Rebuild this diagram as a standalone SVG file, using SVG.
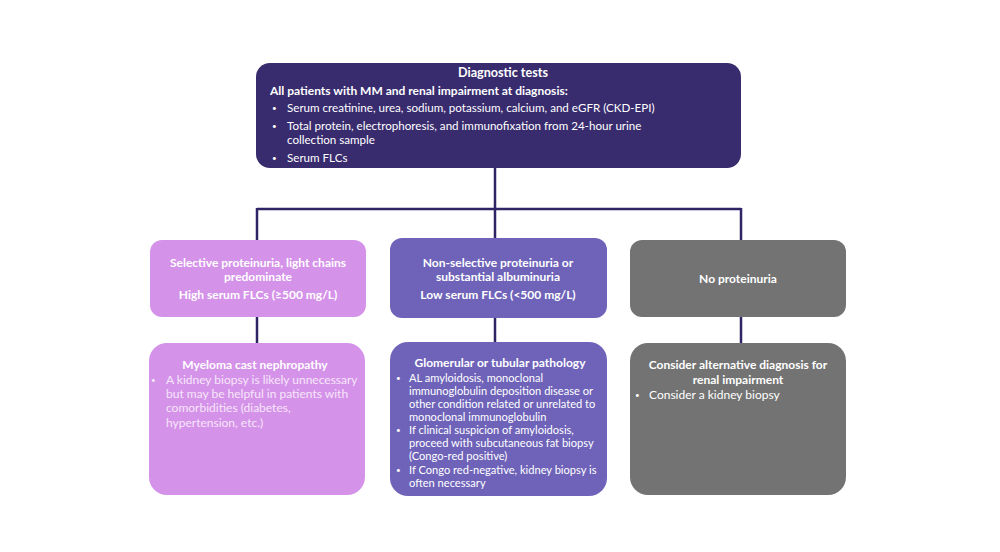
<svg xmlns="http://www.w3.org/2000/svg" width="1000" height="552" viewBox="0 0 1000 552">
<style>
text{font-family:Lato,"Liberation Sans",sans-serif;fill:#fff;font-size:12px}
.b{font-weight:bold}
.c{text-anchor:middle}
.t{font-size:11.6px}
.g{font-size:11.1px}
.d{font-size:8px}
.l{fill:#f5e6fa}
.conn{stroke:#2f2566;stroke-width:2.5;fill:none}
</style>
<rect width="1000" height="552" fill="#fff"/>
<g id="connectors">
<path class="conn" d="M495 168V209M257 209H741M257 208V240M495 208V238M741 208V240M257 317V343M495 318V342M741 317V343"/>
</g>
<g id="diagnostic-tests">
<rect x="256" y="63" width="485" height="105" rx="14" fill="#382c6e"/>
<text class="b c" x="503" y="77" style="font-size:12.6px">Diagnostic tests</text>
<text class="b" x="270" y="95">All patients with MM and renal impairment at diagnosis:</text>
<text class="d" x="272" y="111">•</text><text class="t" x="287" y="112">Serum creatinine, urea, sodium, potassium, calcium, and eGFR (CKD-EPI)</text>
<text class="d" x="272" y="129">•</text><text class="t" x="287" y="130">Total protein, electrophoresis, and immunofixation from 24-hour urine</text>
<text class="t" x="287" y="144">collection sample</text>
<text class="d" x="272" y="161">•</text><text class="t" x="287" y="162">Serum FLCs</text>
</g>
<g id="selective">
<rect x="150" y="240" width="216" height="77" rx="12" fill="#d592e9"/>
<text class="b c" x="258" y="267">Selective proteinuria, light chains</text>
<text class="b c" x="258" y="281">predominate</text>
<text class="b c" x="258" y="299">High serum FLCs (≥500 mg/L)</text>
</g>
<g id="non-selective">
<rect x="390" y="238" width="217" height="80" rx="12" fill="#6e63b9"/>
<text class="b c" x="498" y="267">Non-selective proteinuria or</text>
<text class="b c" x="498" y="281">substantial albuminuria</text>
<text class="b c" x="498" y="299">Low serum FLCs (&lt;500 mg/L)</text>
</g>
<g id="no-proteinuria">
<rect x="630" y="240" width="216" height="77" rx="12" fill="#737373"/>
<text class="b c" x="738" y="283">No proteinuria</text>
</g>
<g id="cast-nephropathy">
<rect x="149" y="343" width="216" height="152" rx="18" fill="#d592e9"/>
<text class="b c" x="255" y="369">Myeloma cast nephropathy</text>
<text class="l d" x="151" y="383">•</text><text class="l" x="166" y="384">A kidney biopsy is likely unnecessary</text>
<text class="l" x="166" y="398">but may be helpful in patients with</text>
<text class="l" x="166" y="412">comorbidities (diabetes,</text>
<text class="l" x="166" y="427">hypertension, etc.)</text>
</g>
<g id="glomerular">
<rect x="390" y="342" width="217" height="154" rx="18" fill="#6e63b9"/>
<text class="b c" x="500" y="367">Glomerular or tubular pathology</text>
<text class="d" x="396" y="381">•</text><text class="g" x="409" y="382">AL amyloidosis, monoclonal</text>
<text class="g" x="409" y="395">immunoglobulin deposition disease or</text>
<text class="g" x="409" y="408">other condition related or unrelated to</text>
<text class="g" x="409" y="421">monoclonal immunoglobulin</text>
<text class="d" x="396" y="433">•</text><text class="g" x="409" y="434">If clinical suspicion of  amyloidosis,</text>
<text class="g" x="409" y="447">proceed with subcutaneous fat biopsy</text>
<text class="g" x="409" y="460">(Congo-red positive)</text>
<text class="d" x="396" y="473">•</text><text class="g" x="409" y="474">If Congo red-negative, kidney biopsy is</text>
<text class="g" x="409" y="487">often necessary</text>
</g>
<g id="alternative">
<rect x="630" y="343" width="216" height="152" rx="18" fill="#737373"/>
<text class="b c" x="738" y="369">Consider alternative diagnosis for</text>
<text class="b c" x="738" y="384">renal impairment</text>
<text class="d" x="635" y="398">•</text><text x="649" y="399">Consider a kidney biopsy</text>
</g>
</svg>
